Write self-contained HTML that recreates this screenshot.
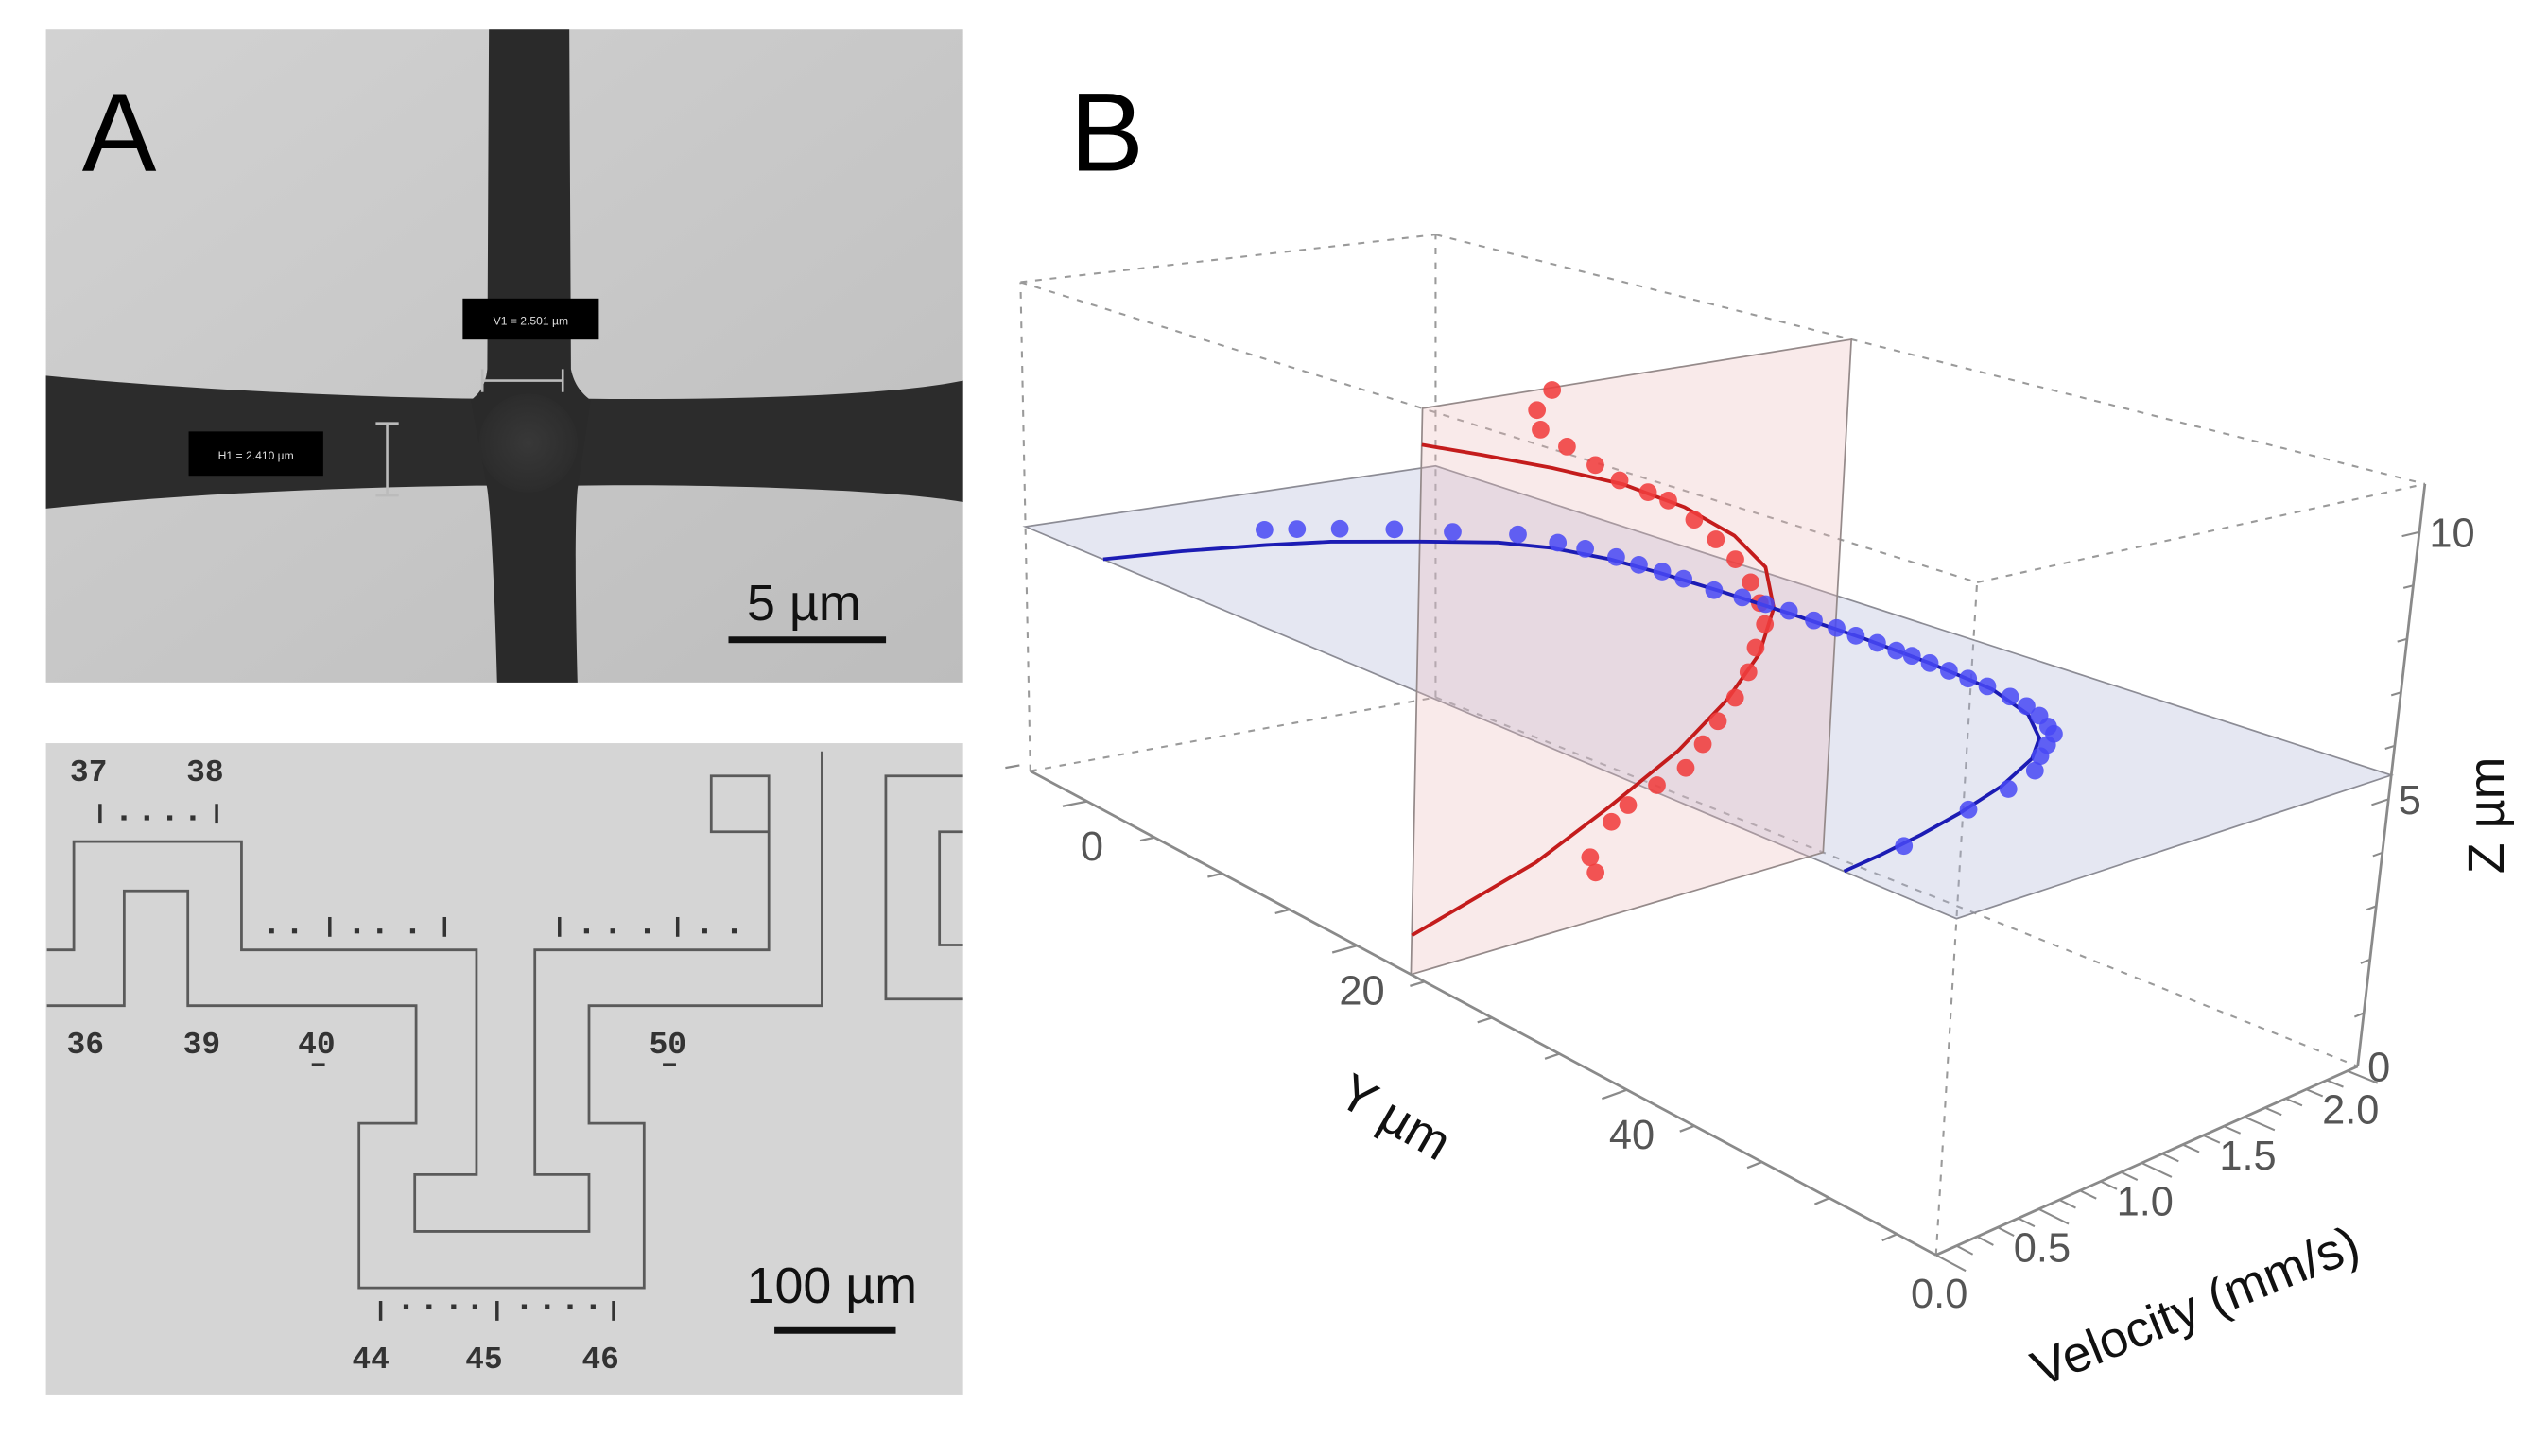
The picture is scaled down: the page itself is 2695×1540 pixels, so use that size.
<!DOCTYPE html>
<html><head><meta charset="utf-8"><title>Microchannel SEM and 3D velocity profile</title>
<style>
html,body{margin:0;padding:0;background:#fff;}
svg{display:block;font-family:"Liberation Sans",sans-serif;}
</style></head>
<body>
<svg id="root" width="2695" height="1540" viewBox="0 0 1553 887.5" preserveAspectRatio="none" xmlns="http://www.w3.org/2000/svg">
<defs>
<linearGradient id="semTop" x1="0" y1="0" x2="1" y2="1">
<stop offset="0" stop-color="#d2d2d2"/><stop offset="1" stop-color="#bdbdbd"/></linearGradient>
<radialGradient id="semCenter" cx="0.5" cy="0.5" r="0.5">
<stop offset="0" stop-color="#383838"/><stop offset="1" stop-color="#2c2c2c"/></radialGradient>
</defs>

<g>
<rect x="28" y="18" width="559" height="398" fill="url(#semTop)"/>
<path d="M28,229 C120,238 220,242 290,243 L352,243 C430,244 540,242 587,232 L587,306 C540,298 430,295 352,296 L290,296 C220,297 120,300 28,310 Z" fill="#2c2c2c"/>
<path d="M298,18 L347,18 L348,225 C350,235 355,240 360,244 L352,298 C350,320 351,380 352,416 L303,416 C302,380 300,320 297,298 L287,244 C292,240 296,235 297,225 Z" fill="#2a2a2a"/>
<circle cx="322" cy="270" r="30" fill="url(#semCenter)"/>
<rect x="282" y="182" width="83" height="25" fill="#000"/>
<text x="323.5" y="198" font-size="7" fill="#ddd" text-anchor="middle">V1 = 2.501 µm</text>
<rect x="115" y="263" width="82" height="27" fill="#000"/>
<text x="156" y="280" font-size="7" fill="#ddd" text-anchor="middle">H1 = 2.410 µm</text>
<g stroke="#bbb" stroke-width="1.5" fill="none">
<path d="M294,232 L343,232 M294,225 L294,239 M343,225 L343,239"/>
<path d="M236,258 L236,302 M229,258 L243,258 M229,302 L243,302"/>
</g>
<text x="490" y="378" font-size="31" fill="#111" text-anchor="middle">5 µm</text>
<rect x="444" y="388" width="96" height="4" fill="#111"/>
</g>

<g>
<rect x="28" y="453" width="559" height="397" fill="#d5d5d5"/>
<g fill="none" stroke="#5a5a5a" stroke-width="1.6">
<polyline points="28.6,613 75.7,613 75.7,543 114.5,543 114.5,613 253.6,613 253.6,684.7 218.8,684.7 218.8,785 392.6,785 392.6,684.7 359,684.7 359,613 501,613 501,458"/>
<polyline points="28.6,579 45,579 45,513 147.2,513 147.2,579 290.4,579 290.4,716 252.8,716 252.8,750.6 359,750.6 359,716 326,716 326,579 468.6,579 468.6,473 433.5,473 433.5,507 468.6,507"/>
<polyline points="587,609 539.9,609 539.9,473 587,473"/>
<polyline points="587,507 572.6,507 572.6,576 587,576"/>
</g>
<g font-family="Liberation Mono,monospace" font-weight="bold" font-size="19" fill="#333" text-anchor="middle">
<text x="54" y="476">37</text>
<text x="125" y="476">38</text>
<text x="52" y="642">36</text>
<text x="123" y="642">39</text>
<text x="193" y="642">40</text>
<text x="407" y="642">50</text>
<text x="226" y="834">44</text>
<text x="295" y="834">45</text>
<text x="366" y="834">46</text>
</g>
<g fill="#333">
<rect x="190" y="648" width="8" height="2"/><rect x="404" y="648" width="8" height="2"/>
<rect x="60" y="490" width="2" height="12"/><rect x="74" y="497" width="3" height="3"/><rect x="88" y="497" width="3" height="3"/><rect x="102" y="497" width="3" height="3"/><rect x="116" y="497" width="3" height="3"/><rect x="131" y="490" width="2" height="12"/>
<rect x="164" y="566" width="3" height="3"/><rect x="178" y="566" width="3" height="3"/><rect x="200" y="559" width="2" height="12"/><rect x="216" y="566" width="3" height="3"/><rect x="230" y="566" width="3" height="3"/><rect x="250" y="566" width="3" height="3"/><rect x="270" y="559" width="2" height="12"/>
<rect x="340" y="559" width="2" height="12"/><rect x="356" y="566" width="3" height="3"/><rect x="372" y="566" width="3" height="3"/><rect x="393" y="566" width="3" height="3"/><rect x="412" y="559" width="2" height="12"/><rect x="428" y="566" width="3" height="3"/><rect x="446" y="566" width="3" height="3"/>
<rect x="231" y="793" width="2" height="12"/><rect x="246" y="795" width="3" height="3"/><rect x="260" y="795" width="3" height="3"/><rect x="275" y="795" width="3" height="3"/><rect x="288" y="795" width="3" height="3"/><rect x="302" y="793" width="2" height="12"/><rect x="318" y="795" width="3" height="3"/><rect x="332" y="795" width="3" height="3"/><rect x="346" y="795" width="3" height="3"/><rect x="360" y="795" width="3" height="3"/><rect x="373" y="793" width="2" height="12"/>
</g>
<text x="507" y="794" font-size="31" fill="#111" text-anchor="middle">100 µm</text>
<rect x="472" y="809" width="74" height="4" fill="#111"/>
</g>

<text x="50" y="104" font-size="68" fill="#000">A</text>
<text x="652" y="104" font-size="68" fill="#000">B</text>

<g id="chart"></g>
</svg>

<script>
const yTicks = [0, 20, 40];
const yMinorTicks = [-5, 5, 10, 15, 25, 30, 35, 45, 50, 55, 60];
const velTicks = [0.0, 0.5, 1.0, 1.5, 2.0];
const velTickLabels = ["0.0", "0.5", "1.0", "1.5", "2.0"];
const zTicks = [0, 5, 10];
const zTickLabels = ["0", "5", "10"];

const blueY = [1.0, 1.6, 2.5, 3.8, 5.5, 7.4, 9.5, 11, 12.9, 14.5, 16, 17.5, 19.8, 21.5, 23, 24.5, 26.4, 28, 29.5, 31, 32.5, 33.6, 35, 36.5, 38, 39.5, 41.4, 43, 44.5, 46, 47, 48, 49, 50.4, 51.5, 52.4, 54.1];
const blueV = [0.83, 0.95, 1.1, 1.28, 1.45, 1.64, 1.69, 1.72, 1.74, 1.74, 1.75, 1.75, 1.74, 1.76, 1.77, 1.78, 1.77, 1.77, 1.76, 1.76, 1.75, 1.75, 1.74, 1.73, 1.72, 1.71, 1.69, 1.66, 1.62, 1.56, 1.52, 1.42, 1.32, 1.2, 1.0, 0.75, 0.33];
const blueFitY = [1.4, 2, 3, 4, 6, 8, 10, 13, 16, 20, 25, 30, 35, 40, 44, 47, 49, 51, 52.5, 53.5, 54.3, 54.8];
const blueFitV = [0, 0.35, 0.7, 0.95, 1.25, 1.5, 1.62, 1.7, 1.73, 1.75, 1.76, 1.76, 1.74, 1.7, 1.6, 1.45, 1.28, 1.0, 0.7, 0.45, 0.2, 0];

const redZ = [10.85, 10.5, 10.1, 9.67, 9.2, 8.8, 8.45, 8.2, 7.7, 7.2, 6.7, 6.15, 5.67, 5.2, 4.75, 4.27, 3.8, 3.4, 3.0, 2.6, 2.4, 2.15, 1.9, 1.3, 0.96];
const redV = [0.62, 0.55, 0.57, 0.7, 0.84, 0.96, 1.1, 1.2, 1.33, 1.44, 1.54, 1.62, 1.67, 1.7, 1.66, 1.63, 1.57, 1.49, 1.42, 1.34, 1.2, 1.06, 0.98, 0.88, 0.91];
const redFitZ = [10.2, 9.8, 9.3, 8.7, 8.0, 7.2, 6.4, 5.5, 4.6, 3.8, 3.0, 2.2, 1.5, 0.75];
const redFitV = [0, 0.29, 0.63, 0.98, 1.28, 1.53, 1.69, 1.74, 1.68, 1.53, 1.3, 0.96, 0.61, 0];

const planeZ = 5.45;
const planeY = 24;

const YMIN = -4.2, YMAX = 62.9, VMAX = 2.05, ZMAX = 10.9;
const C = {
  "000": [628, 470], "100": [1180, 765], "110": [1437, 650], "010": [875, 425],
  "001": [622, 172], "101": [1205, 355], "111": [1478, 295], "011": [875, 143]
};
function lerp(a, b, t) { return [a[0] + (b[0] - a[0]) * t, a[1] + (b[1] - a[1]) * t]; }
function P(y, v, z) {
  const u = (y - YMIN) / (YMAX - YMIN), s = v / VMAX, w = z / ZMAX;
  const a = lerp(C["000"], C["100"], u), b = lerp(C["010"], C["110"], u);
  const c = lerp(C["001"], C["101"], u), d = lerp(C["011"], C["111"], u);
  return lerp(lerp(a, b, s), lerp(c, d, s), w);
}
const NS = "http://www.w3.org/2000/svg";
const chart = document.getElementById("chart");
function mk(tag, attrs, parent) {
  const e = document.createElementNS(NS, tag);
  for (const k in attrs) e.setAttribute(k, attrs[k]);
  (parent || chart).appendChild(e);
  return e;
}
function ptsStr(arr) { return arr.map(p => p[0].toFixed(1) + "," + p[1].toFixed(1)).join(" "); }

const dashed = [
  [[YMIN, 0, ZMAX], [YMIN, VMAX, ZMAX]], [[YMIN, VMAX, ZMAX], [YMAX, VMAX, ZMAX]],
  [[YMIN, 0, ZMAX], [YMAX, 0, ZMAX]], [[YMAX, 0, ZMAX], [YMAX, VMAX, ZMAX]],
  [[YMIN, 0, 0], [YMIN, 0, ZMAX]], [[YMIN, VMAX, 0], [YMIN, VMAX, ZMAX]],
  [[YMAX, 0, 0], [YMAX, 0, ZMAX]], [[YMIN, 0, 0], [YMIN, VMAX, 0]], [[YMIN, VMAX, 0], [YMAX, VMAX, 0]]
];
dashed.forEach(e => {
  const a = P(...e[0]), b = P(...e[1]);
  const l = mk("line", { x1: a[0], y1: a[1], x2: b[0], y2: b[1], stroke: "#9a9a9a", "stroke-width": 1.2, "stroke-dasharray": "4,5" });
  
  
});

const bluePlane = mk("polygon", {
  points: ptsStr([P(YMIN, 0, planeZ), P(YMAX, 0, planeZ), P(YMAX, VMAX, planeZ), P(YMIN, VMAX, planeZ)]),
  fill: "rgba(175,180,215,0.32)", stroke: "#8c8c95", "stroke-width": 1
});


const pinkPlane = mk("polygon", {
  points: ptsStr([P(planeY, 0, 0), P(planeY, VMAX, 0), P(planeY, VMAX, ZMAX), P(planeY, 0, ZMAX)]),
  fill: "rgba(235,185,185,0.3)", stroke: "#958a8a", "stroke-width": 1
});



const redFit = mk("polyline", { points: ptsStr(redFitZ.map((z, i) => P(planeY, redFitV[i], z))), fill: "none", stroke: "#c41c1c", "stroke-width": 2.2, "stroke-linejoin": "round" });


redZ.forEach((z, i) => {
  const p = P(planeY, redV[i], z);
  const c = mk("circle", { cx: p[0], cy: p[1], r: 5.4, fill: "rgba(240,62,62,0.88)" });
  
  
});
const blueFit = mk("polyline", { points: ptsStr(blueFitY.map((y, i) => P(y, blueFitV[i], planeZ))), fill: "none", stroke: "#1c1cb4", "stroke-width": 2.2, "stroke-linejoin": "round" });


blueY.forEach((y, i) => {
  const p = P(y, blueV[i], planeZ);
  const c = mk("circle", { cx: p[0], cy: p[1], r: 5.4, fill: "rgba(72,72,245,0.85)" });
  
  
});

const axes = [
  ["y-axis-line", [YMIN, 0, 0], [YMAX, 0, 0]],
  ["velocity-axis-line", [YMAX, 0, 0], [YMAX, VMAX, 0]],
  ["z-axis-line", [YMAX, VMAX, 0], [YMAX, VMAX, ZMAX]]
];
axes.forEach(a => {
  const p = P(...a[1]), q = P(...a[2]);
  const l = mk("line", { x1: p[0], y1: p[1], x2: q[0], y2: q[1], stroke: "#8a8a8a", "stroke-width": 1.6 });
  
  
});

yTicks.concat(yMinorTicks).forEach(t => {
  const major = yTicks.indexOf(t) >= 0;
  const a = P(t, 0, 0), b = P(t, -(major ? 0.06 : 0.035) * VMAX, 0);
  const l = mk("line", { x1: a[0], y1: a[1], x2: b[0], y2: b[1], stroke: "#8a8a8a", "stroke-width": 1.3 });
  
  
});
yTicks.forEach(t => {
  const a = P(t, 0, 0);
  const tx = mk("text", { x: a[0] + 3, y: a[1] + 36, "font-size": 25, fill: "#555", "text-anchor": "middle" });
  tx.textContent = String(t);
  
  
});
for (let v = 0; v <= 2.0001; v += 0.1) {
  const major = Math.abs(v * 2 - Math.round(v * 2)) < 1e-6;
  const a = P(YMAX, v, 0), b = P(YMAX + (major ? 2.2 : 1.2), v, 0);
  const l = mk("line", { x1: a[0], y1: a[1], x2: b[0], y2: b[1], stroke: "#8a8a8a", "stroke-width": 1.2 });
  
  
}
velTicks.forEach((v, i) => {
  const a = P(YMAX, v, 0);
  const tx = mk("text", { x: a[0] + 2, y: a[1] + 32, "font-size": 25, fill: "#555", "text-anchor": "middle" });
  tx.textContent = velTickLabels[i];
  
  
});
for (let z = 0; z <= 10.0001; z += 1) {
  const major = z % 5 === 0;
  const a = P(YMAX, VMAX, z), b = P(YMAX, VMAX - (major ? 0.08 : 0.045), z);
  const l = mk("line", { x1: a[0], y1: a[1], x2: b[0], y2: b[1], stroke: "#8a8a8a", "stroke-width": 1.2 });
  
  
}
zTicks.forEach((z, i) => {
  const a = P(YMAX, VMAX, z);
  const tx = mk("text", { x: a[0] + 6, y: a[1] + 9, "font-size": 25, fill: "#555", "text-anchor": "start" });
  tx.textContent = zTickLabels[i];
  
  
});

const yTitle = mk("text", { x: 0, y: 0, "font-size": 31, fill: "#111", "text-anchor": "middle", transform: "translate(845,690) rotate(30)" });
yTitle.textContent = "Y µm";


const zTitle = mk("text", { x: 0, y: 0, "font-size": 31, fill: "#111", "text-anchor": "middle", transform: "translate(1526,497) rotate(-90)" });
zTitle.textContent = "Z µm";


const vTitle = mk("text", { x: 0, y: 0, "font-size": 31, fill: "#111", "text-anchor": "middle", transform: "translate(1342,806) rotate(-22)" });
vTitle.textContent = "Velocity (mm/s)";


</script>
</body></html>
